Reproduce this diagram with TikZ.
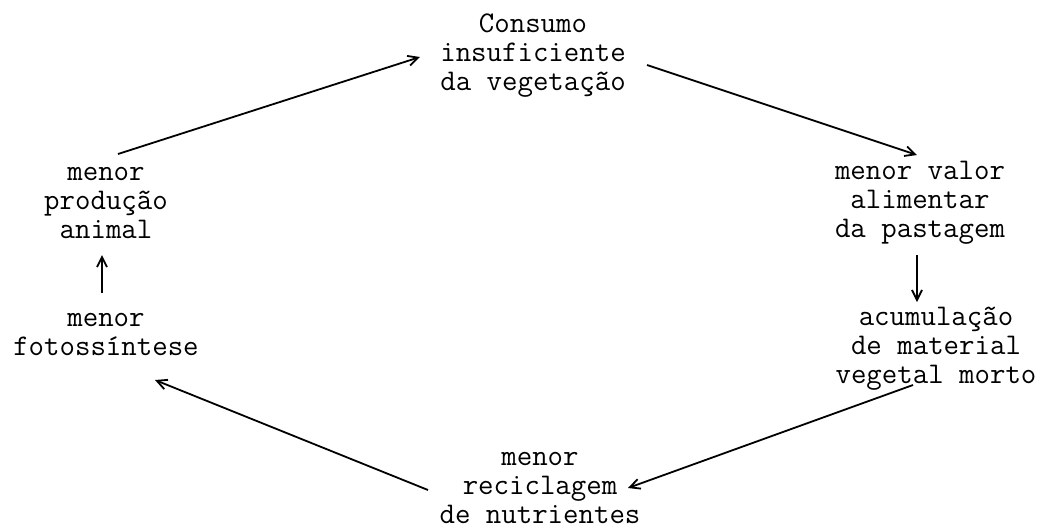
\documentclass[tikz,border=0pt]{standalone}
\usepackage{fontspec}
\usetikzlibrary{arrows.meta}

\begin{document}
\begin{tikzpicture}[x=0.5pt, y=-0.5pt,
  every node/.style={font=\ttfamily\fontsize{15}{14.5}\selectfont, align=center, anchor=base, inner sep=0pt},
  cyc/.style={line width=0.9pt, -{Straight Barb[length=5pt,width=5pt]}}]
  \useasboundingbox (0,0) rectangle (1041,527);
  % the six stages of the cycle (placed by their last line)
  \node (cons)  at (533,90)  {Consumo\\insuficiente\\da vegetação};
  \node (valor) at (920,237) {menor valor\\alimentar\\da pastagem};
  \node (acum)  at (936,383) {acumulação\\de material\\vegetal morto};
  \node (recic) at (540,523) {menor\\reciclagem\\de nutrientes};
  \node (foto)  at (106,355) {menor\\fotossíntese};
  \node (prod)  at (106,238) {menor\\produção\\animal};
  % arrows
  \draw[cyc] ([shift={(12,-84)}]prod.base) -- ([shift={(-113,-33)}]cons.base);
  \draw[cyc] ([shift={(114,-25)}]cons.base) -- ([shift={(-3,-82)}]valor.base);
  \draw[cyc] ([shift={(-3,18)}]valor.base) -- ([shift={(-19,-81)}]acum.base);
  \draw[cyc] ([shift={(-23,2)}]acum.base) -- ([shift={(88,-35)}]recic.base);
  \draw[cyc] ([shift={(-112,-33)}]recic.base) -- ([shift={(49,25)}]foto.base);
  \draw[cyc] ([shift={(-4,-62)}]foto.base) -- ([shift={(-4,17)}]prod.base);
\end{tikzpicture}
\end{document}
